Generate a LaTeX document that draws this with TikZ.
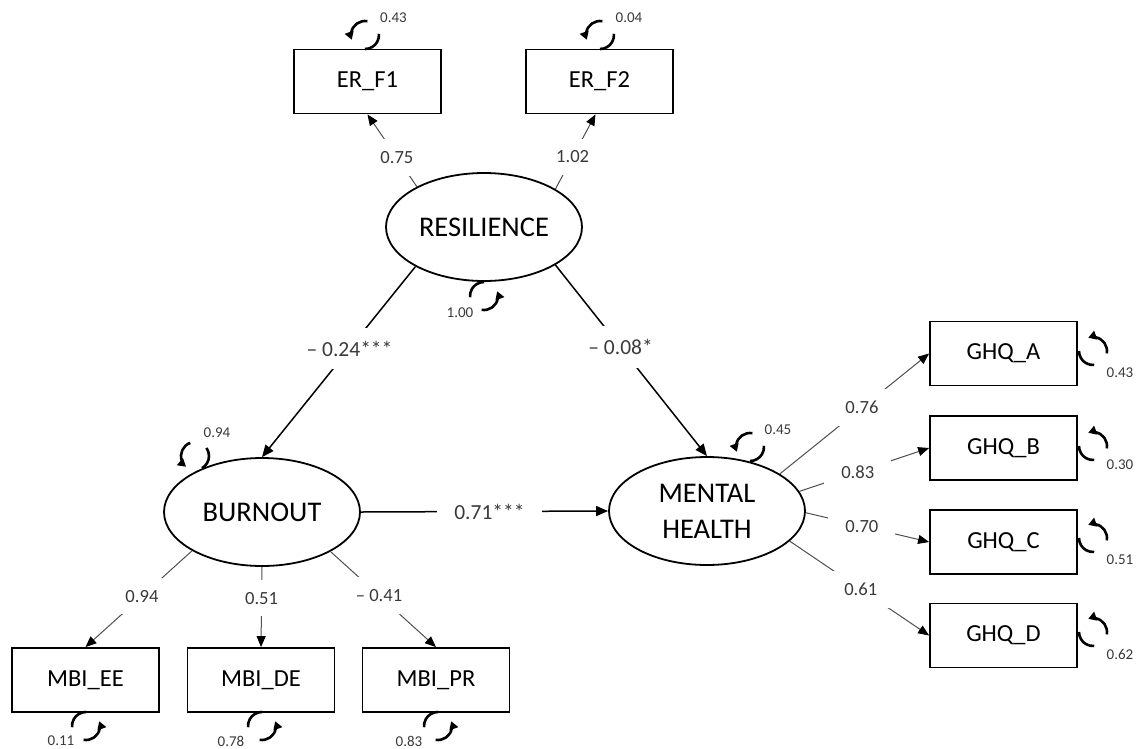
\documentclass[tikz,border=0pt]{standalone}
\usepackage{fontspec}
\setmainfont{Carlito}
\usetikzlibrary{arrows.meta,shapes.geometric}
\definecolor{numgray}{HTML}{3A3A3A}
\definecolor{linegray}{HTML}{505050}
\tikzset{
  obs/.style={draw=black, line width=1.8pt, rectangle, minimum width=147pt, minimum height=64pt, inner sep=0pt, font=\fontsize{24.5}{28}\selectfont},
  lat/.style={draw=black, line width=1.8pt, ellipse, minimum width=196pt, minimum height=108pt, inner sep=0pt, align=center, font=\fontsize{28.5}{36}\selectfont},
  meas/.style={draw=linegray, line width=1pt, -{Triangle[length=11pt,width=9pt,color=black]}},
  struct/.style={draw=black, line width=1.5pt, -{Triangle[length=12pt,width=10pt]}},
  mlab/.style={fill=white, inner xsep=17pt, inner ysep=12pt, text=numgray, font=\fontsize{18.6}{22}\selectfont},
  slab/.style={fill=white, inner xsep=17pt, inner ysep=13pt, text=numgray, font=\fontsize{21.5}{25}\selectfont},
  vlab/.style={inner sep=0pt, text=numgray, font=\fontsize{15}{18}\selectfont},
  rloop/.pic={
    \draw[line width=2.6pt] (#1-180:14) arc[start angle=#1-180, end angle=#1-85, radius=14];
    \draw[line width=2.6pt, -{Triangle[length=8pt,width=9pt]}] (#1-10:14) arc[start angle=#1-10, end angle=#1+110, radius=14];
  }
}
\begin{document}
\begin{tikzpicture}[x=1pt,y=1pt]
\fill[white] (0,0) rectangle (1136,-748);
\useasboundingbox (0,0) rectangle (1136,-748);

% observed variables
\node[obs] (F1) at (367.5,-81.5) {ER\_F1};
\node[obs] (F2) at (599.5,-81.5) {ER\_F2};
\node[obs] (GA) at (1003.5,-353.5) {GHQ\_A};
\node[obs] (GB) at (1003.5,-448) {GHQ\_B};
\node[obs] (GC) at (1003.5,-542) {GHQ\_C};
\node[obs] (GD) at (1003.5,-635.5) {GHQ\_D};
\node[obs] (EE) at (85.5,-680) {MBI\_EE};
\node[obs] (DE) at (261,-680) {MBI\_DE};
\node[obs] (PR) at (436,-680) {MBI\_PR};

% latent variables
\node[lat] (R) at (484,-227) {RESILIENCE};
\node[lat] (B) at (262,-512) {BURNOUT};
\node[lat] (MH) at (707,-511) {MENTAL\\HEALTH};

% measurement paths
\draw[meas] (R.149) -- node[mlab,pos=0.405]{0.75} (F1.south);
\draw[meas] (R.28) -- node[mlab,pos=0.43]{1.02} ([xshift=-4pt]F2.south);
\draw[meas] (B.209) -- node[mlab,pos=0.47]{0.94} (EE.north);
\draw[meas] (B.south) -- node[mlab,pos=0.39]{0.51} (DE.north);
\draw[meas] (B.330) -- node[mlab,pos=0.46]{\textendash{} 0.41} (PR.north);
\draw[meas] (MH.27) -- node[mlab,pos=0.55]{0.76} (GA.west);
\draw[meas] (MH.12) -- node[mlab,pos=0.45]{0.83} (GB.west);
\draw[meas] (MH.359) -- node[mlab,pos=0.455]{0.70} (GC.west);
\draw[meas] (MH.340) -- node[mlab,pos=0.51]{0.61} (GD.west);

% structural paths
\draw[struct] (R.210) -- node[slab,pos=0.43]{\textendash{} 0.24***} (B.north);
\draw[struct] (R.332) -- node[slab,pos=0.43]{\textendash{} 0.08*} (MH.north);
\draw[struct] (B.east) -- node[slab,pos=0.52]{0.71***} (MH.west);

% residual / variance loops
\pic at (365,-35) {rloop=90};
\pic at (600,-35) {rloop=90};
\pic at (484,-296) {rloop=-90};
\pic at (195,-456) {rloop=120};
\pic at (750,-447) {rloop=90};
\pic at (1093,-351) {rloop=0};
\pic at (1093,-446) {rloop=0};
\pic at (1093,-538) {rloop=0};
\pic at (1093,-632) {rloop=0};
\pic at (86,-726) {rloop=-90};
\pic at (262,-726) {rloop=-90};
\pic at (438,-726) {rloop=-90};

% variance labels
\node[vlab] (vF1) at (393.5,-18) {0.43};
\node[vlab] (vF2) at (629,-18) {0.04};
\node[vlab] (vR) at (460,-313) {1.00};
\node[vlab] (vB) at (217,-433) {0.94};
\node[vlab] (vMH) at (778,-430) {0.45};
\node[vlab] (vGA) at (1120,-373) {0.43};
\node[vlab] (vGB) at (1120,-465) {0.30};
\node[vlab] (vGC) at (1120,-560) {0.51};
\node[vlab] (vGD) at (1120,-654) {0.62};
\node[vlab] (vEE) at (61,-741) {0.11};
\node[vlab] (vDE) at (231,-741) {0.78};
\node[vlab] (vPR) at (409,-741) {0.83};
\end{tikzpicture}
\end{document}
